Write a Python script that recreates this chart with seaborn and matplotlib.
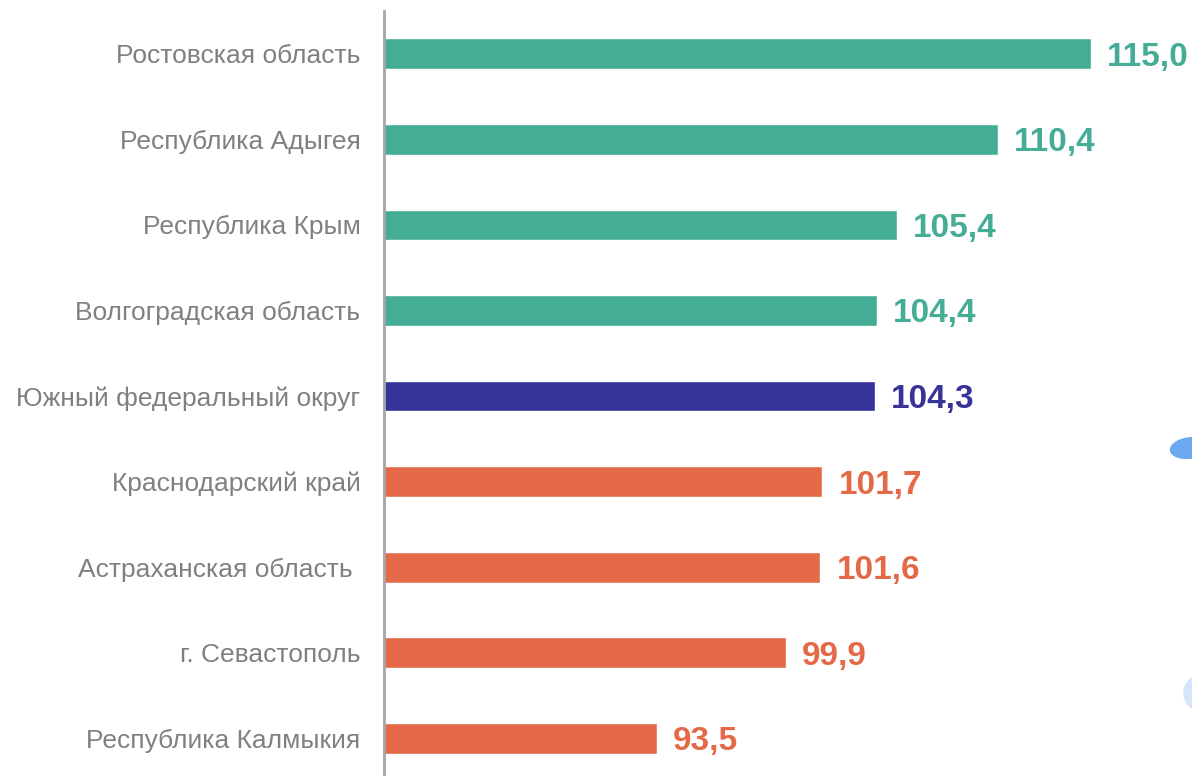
import pandas as pd
import matplotlib.pyplot as plt
import seaborn as sns
from matplotlib.patches import Ellipse

# Data
regions = ["Ростовская область", "Республика Адыгея", "Республика Крым",
           "Волгоградская область", "Южный федеральный округ", "Краснодарский край",
           "Астраханская область ", "г. Севастополь", "Республика Калмыкия"]
values = [115.0, 110.4, 105.4, 104.4, 104.3, 101.7, 101.6, 99.9, 93.5]
groups = ["up", "up", "up", "up", "district", "down", "down", "down", "down"]

colors = {"up": "#45AC96", "district": "#363399", "down": "#E46A47"}

df = pd.DataFrame({"region": regions, "value": values, "group": groups})

sns.set_style("white")
plt.rcParams['font.family'] = ['Liberation Sans', 'DejaVu Sans']

fig = plt.figure(figsize=(11.92, 7.76), dpi=100)
ax = fig.add_axes([384 / 1192, 0, 808 / 1192, 765 / 776])

sns.barplot(data=df, y="region", x="value", hue="group", palette=colors,
            orient="h", width=0.36, legend=False, dodge=False, saturation=1, ax=ax)

# Value labels
for i, (v, g) in enumerate(zip(values, groups)):
    ax.text(v + 0.8, i, f"{v:.1f}".replace(".", ","), va="center_baseline", ha="left",
            fontsize=24, fontweight="bold", color=colors[g])

ax.set_xlim(80, 120)
ax.set_ylim(8.44, -0.5)
ax.set_xlabel("")
ax.set_ylabel("")
ax.set_xticks([])
ax.tick_params(axis="y", length=0, pad=17, labelsize=19, labelcolor="#808080")

for s in ["top", "right", "bottom"]:
    ax.spines[s].set_visible(False)
ax.spines["left"].set_color("#A6A6A6")
ax.spines["left"].set_linewidth(2)

# bits of a map cut off at the right edge
fig.patches.append(Ellipse((1190 / 1192, 1 - 448 / 776), 40 / 1192, 20 / 776, angle=20,
                           color="#6AA8F0", transform=fig.transFigure, figure=fig))
fig.patches.append(Ellipse((1202 / 1192, 1 - 693 / 776), 36 / 1192, 36 / 776,
                           color="#D5E5FB", transform=fig.transFigure, figure=fig))

plt.savefig("out.png", dpi=100)
